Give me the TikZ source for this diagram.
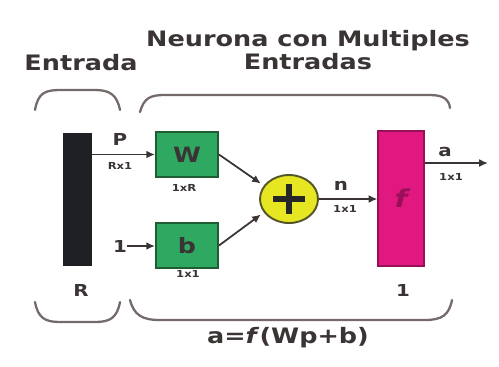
\documentclass[tikz,border=0pt]{standalone}
\usepackage{fontspec}
\setmainfont{DejaVu Sans}[FakeStretch=1.2]
\usetikzlibrary{shapes.geometric,arrows.meta}
\definecolor{ink}{HTML}{3A3434}
\definecolor{bracegray}{HTML}{746A6A}
\definecolor{wgreen}{HTML}{2FA862}
\definecolor{wedge}{HTML}{1E5E32}
\definecolor{sumyellow}{HTML}{E6E622}
\definecolor{sumedge}{HTML}{55552A}
\definecolor{fpink}{HTML}{E0187F}
\definecolor{fedge}{HTML}{9A1058}
\definecolor{barblack}{HTML}{1E2024}
\tikzset{
  brace/.style={draw=bracegray, line width=1.3pt, line cap=round},
  wire/.style={draw=ink, line width=1pt, -{Latex[length=5pt,width=4.5pt]}},
  lab/.style={text=ink, font=\bfseries\fontsize{9.4}{10}\selectfont, inner sep=0pt},
  dimlab/.style={text=ink, font=\bfseries\fontsize{5.5}{6}\selectfont, inner sep=0pt},
  head/.style={text=ink, font=\bfseries\fontsize{12.1}{11.4}\selectfont, inner sep=0pt, align=center},
  wbox/.style={draw=wedge, fill=wgreen, line width=1.1pt, minimum width=1.24cm,
    minimum height=0.9cm, inner sep=0pt, text=ink, font=\bfseries\fontsize{12}{12}\selectfont},
}

\begin{document}
\begin{tikzpicture}[x=0.02cm, y=-0.02cm]
\useasboundingbox (0,0) rectangle (499,366);
% headings
\node[head] (title) at (308,50) {Neurona con Multiples\\Entradas};
\node[head] (entrada) at (81,63) {Entrada};

% top braces
\draw[brace] (35,110) .. controls (38,93) and (45,90) .. (60,90) -- (95,90)
  .. controls (110,90) and (117,95) .. (120,110);
\draw[brace] (140,112) .. controls (144,98) and (150,95) .. (165,95) -- (430,95)
  .. controls (444,95) and (449,100) .. (450,108);

% input vector
\node[fill=barblack, minimum width=0.58cm, minimum height=2.66cm, inner sep=0pt] (vec) at (77.5,199.5) {};
\node[lab] (R) at (81,290) {R};

% weight and bias
\node[wbox] (W) at (187,154.5) {W};
\node[wbox] (b) at (187,245.5) {b};
\node[dimlab] (Wdim) at (184,188) {1xR};
\node[dimlab] (bdim) at (188,274) {1x1};

\node[lab] (p) at (120,139) {P};
\node[dimlab] (pdim) at (120,166) {Rx1};
\node[lab] (one) at (120,246) {1};
\draw[wire] (vec.east |- W) -- (W);
\draw[wire] (one.east) -- (b.west |- one);

% summer
\node[ellipse, draw=sumedge, fill=sumyellow, line width=1.1pt, minimum width=1.16cm,
  minimum height=0.96cm, inner sep=0pt] (sum) at (289,199) {};
\draw[draw=black!85, line width=3pt] (sum.center) ++(-16,0) -- ++(32,0);
\draw[draw=black!85, line width=3pt] (sum.center) ++(0,-15) -- ++(0,30);
\draw[wire, shorten >=2pt] (W.east) -- (sum.152);
\draw[wire, shorten >=2pt] (b.east) -- (sum.208);

% transfer function
\node[draw=fedge, fill=fpink, line width=0.6pt, minimum width=0.92cm, minimum height=2.7cm,
  inner sep=0pt, text=fedge, font=\bfseries\itshape\fontsize{14}{14}\selectfont] (f) at (401,198.5) {f};
\node[lab] (onef) at (403,290) {1};
\draw[wire] (sum.east) -- (f.west |- sum.east);
\node[lab] (n) at (341,186) {n};
\node[dimlab] (ndim) at (345,209) {1x1};

% output
\coordinate (out) at (488,163);
\draw[wire] (f.east |- out) -- (out);
\node[lab] (a) at (445,152) {a};
\node[dimlab] (adim) at (451,177) {1x1};

% bottom braces
\draw[brace] (35,302) .. controls (38,318) and (45,322) .. (60,322) -- (95,322)
  .. controls (110,322) and (117,318) .. (120,302);
\draw[brace] (130,300) .. controls (134,315) and (142,320) .. (160,320) -- (425,320)
  .. controls (442,320) and (449,315) .. (452,300);
\node[head] (formula) at (288,338) {a=\textit{f}(Wp+b)};
\end{tikzpicture}
\end{document}
